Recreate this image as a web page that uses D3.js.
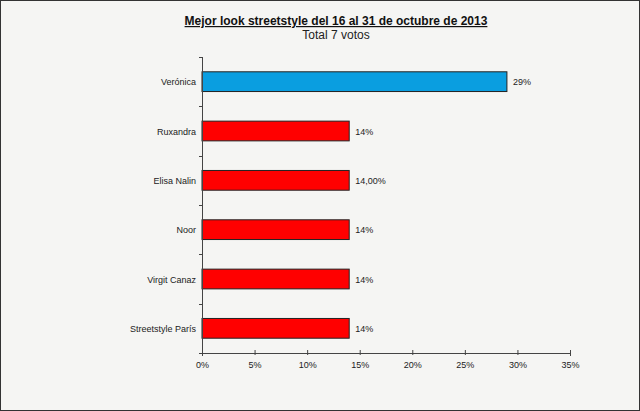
<!DOCTYPE html>
<html><head><meta charset="utf-8">
<script src="https://cdn.jsdelivr.net/npm/d3@7"></script>
<style>
html,body{margin:0;padding:0;background:#f5f5f3;}
svg{display:block;}
</style></head>
<body>
<svg id="chart" width="640" height="411"></svg>
<script>
const categories = ["Verónica","Ruxandra","Elisa Nalin","Noor","Virgit Canaz","Streetstyle París"];
const values = [29,14,14,14,14,14];
const valueLabels = ["29%","14%","14,00%","14%","14%","14%"];
const barColors = ["#0a9ee0","#ff0000","#ff0000","#ff0000","#ff0000","#ff0000"];
const xTicks = [0,5,10,15,20,25,30,35];
const title = "Mejor look streetstyle del 16 al 31 de octubre de 2013";
const subtitle = "Total 7 votos";

(function(){
const W = 640, H = 411;
const svg = d3.select("#chart");
svg.append("rect").attr("x",0.5).attr("y",0.5).attr("width",W-1).attr("height",H-1)
  .attr("fill","#f5f5f3").attr("stroke","#333").attr("stroke-width",1);

const mLeft = 202, mRight = 570, mTop = 57, mBottom = 353;
const x = d3.scaleLinear().domain([0,35]).range([mLeft,mRight]);
const y = d3.scaleBand().domain(categories).range([mTop,mBottom]).paddingInner(0.6).paddingOuter(0.3);

const font = "Arial, 'Liberation Sans', sans-serif";

svg.append("text").attr("x",336).attr("y",25).attr("text-anchor","middle")
  .attr("font-family",font).attr("font-size",12).attr("font-weight","bold")
  .attr("text-decoration","underline").attr("fill","#111").text(title);
svg.append("text").attr("x",336).attr("y",39).attr("text-anchor","middle")
  .attr("font-family",font).attr("font-size",12).attr("fill","#222").text(subtitle);

// bars
svg.append("g").selectAll("rect").data(categories).join("rect")
  .attr("x",x(0)).attr("y",d=>y(d))
  .attr("width",(d,i)=>x(values[i])-x(0)).attr("height",y.bandwidth())
  .attr("fill",(d,i)=>barColors[i]).attr("stroke","#222").attr("stroke-width",1);

// value labels
svg.append("g").selectAll("text").data(categories).join("text")
  .attr("x",(d,i)=>x(values[i])+6).attr("y",d=>y(d)+y.bandwidth()/2+3.5)
  .attr("font-family",font).attr("font-size",9).attr("fill","#222")
  .text((d,i)=>valueLabels[i]);

// category labels
svg.append("g").selectAll("text").data(categories).join("text")
  .attr("x",mLeft-6).attr("y",d=>y(d)+y.bandwidth()/2+3.5).attr("text-anchor","end")
  .attr("font-family",font).attr("font-size",9).attr("fill","#222").text(d=>d);

// y axis line and boundary ticks
svg.append("line").attr("x1",mLeft+0.5).attr("x2",mLeft+0.5).attr("y1",mTop).attr("y2",mBottom)
  .attr("stroke","#444").attr("stroke-width",1);
const step = (mBottom-mTop)/categories.length;
svg.append("g").selectAll("line").data(d3.range(categories.length+1)).join("line")
  .attr("x1",mLeft-3).attr("x2",mLeft).attr("y1",i=>Math.round(mTop+i*step)+0.5).attr("y2",i=>Math.round(mTop+i*step)+0.5)
  .attr("stroke","#444");

// x axis
const xAxis = d3.axisBottom(x).tickValues(xTicks).tickFormat(d=>d+"%").tickSize(3);
const gx = svg.append("g").attr("transform",`translate(0,${mBottom})`).call(xAxis);
gx.select(".domain").attr("stroke","#444");
gx.selectAll(".tick line").attr("stroke","#444").attr("y1",-3).attr("y2",2);
gx.selectAll(".tick text").attr("font-family",font).attr("font-size",9).attr("fill","#222").attr("dy","0.95em");
})();
</script>
</body></html>
